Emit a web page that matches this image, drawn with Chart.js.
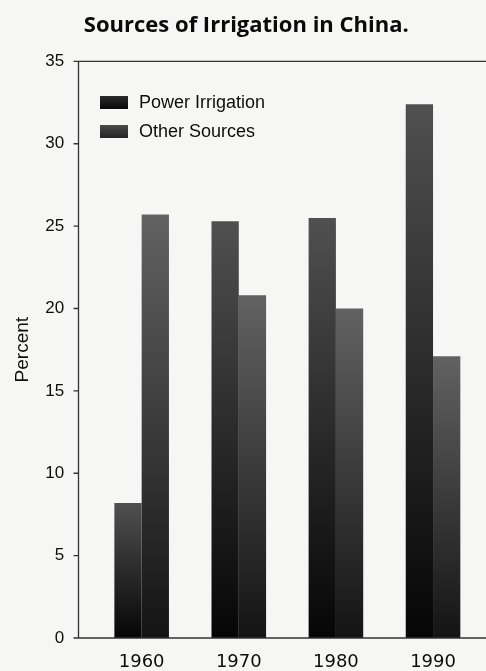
<!DOCTYPE html>
<html>
<head>
<meta charset="utf-8">
<script src="https://cdn.jsdelivr.net/npm/chart.js@4.4.1/dist/chart.umd.min.js"></script>
<style>
  html, body { margin: 0; padding: 0; background: #f6f6f5; }
  #wrap { width: 486px; height: 671px; }
</style>
</head>
<body>
<div id="wrap"><canvas id="c" width="486" height="671"></canvas></div>
<script>
// ---- data ----
const categories = ['1960', '1970', '1980', '1990'];
const powerIrrigation = [8.2, 25.3, 25.5, 32.4];
const otherSources = [25.7, 20.8, 20.0, 17.1];
const seriesLabels = ['Power Irrigation', 'Other Sources'];
const yTickStep = 5;
const yMax = 35;

// ---- styling ----
const gradStops = [
  { top: '#505050', bottom: '#060606' },  // power
  { top: '#626262', bottom: '#141414' }   // other
];

function barGradient(idx) {
  return function (ctx) {
    const chart = ctx.chart;
    if (!chart.chartArea || ctx.type !== 'data') return gradStops[idx].bottom;
    const ys = chart.scales.y;
    const v = ctx.dataset.data[ctx.dataIndex];
    const top = ys.getPixelForValue(v);
    const bot = ys.getPixelForValue(0);
    const g = chart.ctx.createLinearGradient(0, top, 0, bot);
    g.addColorStop(0, gradStops[idx].top);
    g.addColorStop(1, gradStops[idx].bottom);
    return g;
  };
}

const AXIS_X = 78.5;
const frameAndLegend = {
  id: 'frameAndLegend',
  afterDraw(chart) {
    const c = chart.ctx;
    const area = chart.chartArea;
    const ys = chart.scales.y;
    c.save();
    c.strokeStyle = '#333';
    c.lineWidth = 1.3;
    c.beginPath();
    c.moveTo(AXIS_X, area.top);
    c.lineTo(AXIS_X, area.bottom);
    c.moveTo(AXIS_X, area.top);
    c.lineTo(chart.width, area.top);
    c.moveTo(AXIS_X - 4, area.bottom);
    c.lineTo(chart.width, area.bottom);
    ys.ticks.forEach(t => {
      const py = ys.getPixelForValue(t.value);
      c.moveTo(AXIS_X - 5, py);
      c.lineTo(AXIS_X, py);
    });
    c.stroke();

    // legend
    const boxX = 100, boxW = 28, boxH = 13;
    const rows = [96, 125];
    c.font = '18px "Liberation Sans", Arial, sans-serif';
    c.textBaseline = 'middle';
    chart.data.datasets.forEach((ds, i) => {
      const y0 = rows[i];
      const g = c.createLinearGradient(0, y0, 0, y0 + boxH);
      if (i === 0) { g.addColorStop(0, '#2a2a2a'); g.addColorStop(1, '#080808'); }
      else { g.addColorStop(0, '#4a4a4a'); g.addColorStop(1, '#242424'); }
      c.fillStyle = g;
      c.fillRect(boxX, y0, boxW, boxH);
      c.fillStyle = '#0d0d0d';
      c.fillText(ds.label, 139, y0 + boxH / 2 + 0.5);
    });
    c.restore();
  }
};

new Chart(document.getElementById('c'), {
  type: 'bar',
  data: {
    labels: categories,
    datasets: [
      { label: seriesLabels[0], data: powerIrrigation, backgroundColor: barGradient(0), borderWidth: 0 },
      { label: seriesLabels[1], data: otherSources, backgroundColor: barGradient(1), borderWidth: 0 }
    ]
  },
  options: {
    responsive: false,
    animation: false,
    events: [],
    layout: { autoPadding: false, padding: { left: 11, right: 4.4, top: 0, bottom: 0 } },
    datasets: { bar: { categoryPercentage: 0.562, barPercentage: 1.0 } },
    plugins: {
      legend: { display: false },
      tooltip: { enabled: false },
      title: {
        display: true,
        text: 'Sources of Irrigation in China.',
        color: '#0a0a0a',
        font: { family: '"Open Sans", sans-serif', size: 22, weight: 'bold' },
        padding: { top: 13, bottom: 22 }
      }
    },
    scales: {
      x: {
        grid: { display: false, drawTicks: false },
        border: { display: false },
        ticks: {
          color: '#0d0d0d',
          font: { family: '"DejaVu Sans", Verdana, sans-serif', size: 18 },
          padding: 13.5,
          maxRotation: 0,
          autoSkip: false
        },
        afterFit(scale) { scale.height = 33; }
      },
      y: {
        min: 0,
        max: yMax,
        grid: { display: false, drawTicks: true, tickLength: 29 },
        border: { display: false },
        ticks: {
          stepSize: yTickStep,
          color: '#0d0d0d',
          font: { family: '"Liberation Sans", Arial, sans-serif', size: 17 },
          padding: 0
        },
        title: {
          display: true,
          text: 'Percent',
          color: '#0d0d0d',
          font: { family: '"Liberation Sans", Arial, sans-serif', size: 19 },
          padding: 0
        },
        afterFit(scale) { scale.width = 82.1; }
      }
    }
  },
  plugins: [frameAndLegend]
});
</script>
</body>
</html>
